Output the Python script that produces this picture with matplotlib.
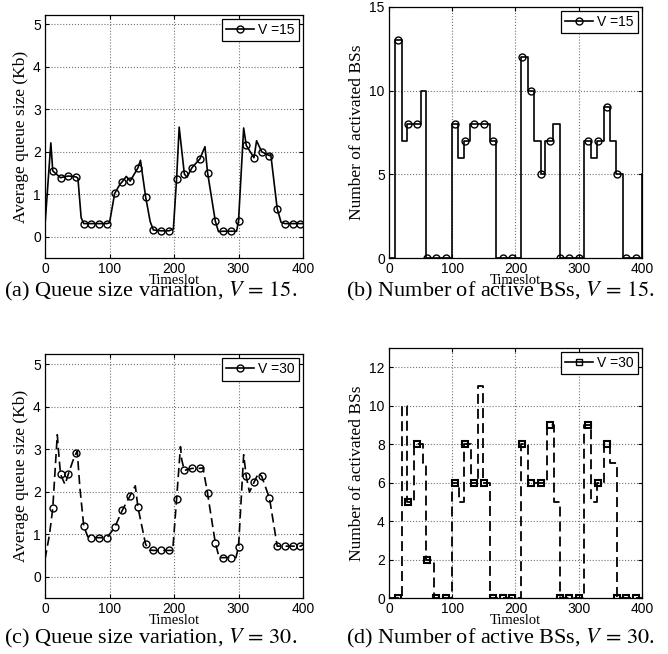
import numpy as np
import matplotlib
matplotlib.use('Agg')
import matplotlib.pyplot as plt
from matplotlib.lines import Line2D

# ---- data ----
# (a) average queue size, V = 15 : markers every 12 slots + extra line vertices
qa_mark_t = list(range(12, 400, 12))
qa_mark = [1.55, 1.39, 1.43, 1.41, 0.31, 0.31, 0.31, 0.31, 1.02, 1.30, 1.31,
           1.62, 0.94, 0.16, 0.14, 0.14, 1.36, 1.48, 1.63, 1.83, 1.51, 0.37,
           0.13, 0.13, 0.37, 2.15, 1.86, 2.00, 1.91, 0.66, 0.31, 0.31, 0.31]
qa_extra_t = [0, 9, 51, 56, 100, 116, 126, 148, 163, 199, 208, 220, 248,
              269, 297, 308, 328, 350, 366, 400]
qa_extra = [0.28, 2.21, 1.38, 0.45, 0.33, 1.23, 1.42, 1.80, 0.36, 0.18, 2.58,
            1.40, 2.12, 0.12, 0.13, 2.56, 2.26, 1.94, 0.34, 0.31]

# (c) average queue size, V = 30
qc_mark_t = list(range(12, 400, 12))
qc_mark = [1.61, 2.41, 2.41, 2.90, 1.20, 0.92, 0.92, 0.92, 1.16, 1.57, 1.91,
           1.64, 0.76, 0.62, 0.62, 0.62, 1.83, 2.50, 2.55, 2.55, 1.96, 0.80,
           0.45, 0.45, 0.70, 2.36, 2.22, 2.36, 1.85, 0.72, 0.72, 0.72, 0.72]
qc_extra_t = [0, 7, 19, 21, 31, 43, 50, 54, 66, 140, 162, 198, 210, 212, 245,
              270, 296, 308, 317, 331, 400]
qc_extra = [0.41, 1.00, 3.34, 2.95, 2.17, 2.72, 2.95, 2.10, 0.95, 2.14, 0.63,
            0.62, 3.06, 2.75, 2.56, 0.45, 0.45, 2.87, 1.99, 2.44, 0.75]

# (b) number of activated BSs, V = 15 (stairs)
nb_t = [0, 10, 20, 28, 50, 59, 100, 109, 118, 128, 160, 170, 209, 220, 230,
        240, 247, 260, 270, 309, 320, 329, 340, 350, 359, 370, 400]
nb = [0, 13, 7, 8, 10, 0, 8, 6, 7, 8, 7, 0, 12, 10, 7, 5, 7, 8, 0, 7, 6, 7, 9,
      7, 5, 0, 5]

# (d) number of activated BSs, V = 30 (stairs)
nd_t = [0, 20, 29, 39, 54, 59, 71, 100, 110, 119, 130, 140, 149, 160, 209, 220,
        250, 261, 270, 309, 320, 329, 340, 350, 360, 400]
nd = [0, 10, 5, 8, 7, 2, 0, 6, 5, 8, 6, 11, 6, 0, 8, 6, 9, 5, 0, 9, 5, 6, 8, 7,
      0, 0]

bs_mark_t = list(range(15, 400, 15))

captions = [r'(a) Queue size variation, $V\,=\,15$.',
            r'(b) Number of active BSs, $V\,=\,15$.',
            r'(c) Queue size variation, $V\,=\,30$.',
            r'(d) Number of active BSs, $V\,=\,30$.']

plt.rcParams['mathtext.fontset'] = 'stix'
SANS = 'Liberation Sans'
SERIF = 'Liberation Serif'


def merge(t1, v1, t2, v2):
    t = np.array(list(t1) + list(t2), dtype=float)
    v = np.array(list(v1) + list(v2), dtype=float)
    o = np.argsort(t, kind='stable')
    return t[o], v[o]


def step_at(ts, vs, x):
    idx = np.searchsorted(ts, x, side='right') - 1
    return np.array(vs)[idx]


def style(ax, ylim, yticks, ylabel):
    ax.set_xlim(0, 400)
    ax.set_ylim(*ylim)
    ax.set_xticks([0, 100, 200, 300, 400])
    ax.set_yticks(yticks)
    ax.grid(True, linestyle=':', color='0.45', linewidth=0.8)
    ax.tick_params(direction='in', top=True, right=True, length=3,
                   labelsize=10, pad=3)
    for lab in ax.get_xticklabels() + ax.get_yticklabels():
        lab.set_family(SANS)
    for s in ax.spines.values():
        s.set_linewidth(0.9)
    ax.set_xlabel('Timeslot', family=SERIF, fontsize=10.5, labelpad=-1.5)
    ax.set_ylabel(ylabel, family=SERIF, fontsize=12.5, labelpad=3)


def legend(ax, ls, marker, label):
    h = Line2D([], [], color='k', ls=ls, lw=1.2, marker=marker, ms=5,
               mfc='none', mew=1.0)
    leg = ax.legend([h], [label], loc='upper right', prop={'family': SANS, 'size': 10},
                    fancybox=False, framealpha=1, edgecolor='k',
                    borderaxespad=0.3, handlelength=2.0, handletextpad=0.3,
                    borderpad=0.3)
    leg.get_frame().set_linewidth(0.9)


fig = plt.figure(figsize=(6.68, 6.54), dpi=100)
ax_a = fig.add_axes([0.0674, 0.6055, 0.3862, 0.3716])
ax_b = fig.add_axes([0.5823, 0.6055, 0.3787, 0.3838])
ax_c = fig.add_axes([0.0674, 0.0856, 0.3862, 0.3731])
ax_d = fig.add_axes([0.5823, 0.0856, 0.3787, 0.3823])

# (a)
t, v = merge(qa_extra_t, qa_extra, qa_mark_t, qa_mark)
ax_a.plot(t, v, color='k', lw=1.2)
ax_a.plot(qa_mark_t, qa_mark, ls='none', marker='o', ms=5, mfc='none',
          mec='k', mew=1.0)
style(ax_a, (-0.5, 5.22), [0, 1, 2, 3, 4, 5], 'Average queue size (Kb)')
legend(ax_a, '-', 'o', 'V =15')

# (b)
ax_b.plot(nb_t, nb, color='k', lw=1.2, drawstyle='steps-post')
ax_b.plot(bs_mark_t, step_at(nb_t, nb, bs_mark_t), ls='none', marker='o',
          ms=5, mfc='none', mec='k', mew=1.0)
style(ax_b, (0, 15), [0, 5, 10, 15], 'Number of activated BSs')
legend(ax_b, '-', 'o', 'V =15')

# (c)
t, v = merge(qc_extra_t, qc_extra, qc_mark_t, qc_mark)
ax_c.plot(t, v, color='k', lw=1.2, dashes=(5.5, 2.8))
ax_c.plot(qc_mark_t, qc_mark, ls='none', marker='o', ms=5, mfc='none',
          mec='k', mew=1.0)
style(ax_c, (-0.5, 5.24), [0, 1, 2, 3, 4, 5], 'Average queue size (Kb)')
legend(ax_c, '-', 'o', 'V =30')

# (d)
ax_d.plot(nd_t, nd, color='k', lw=1.3, dashes=(5.5, 2.8), drawstyle='steps-post')
ax_d.plot(bs_mark_t, step_at(nd_t, nd, bs_mark_t), ls='none', marker='s',
          ms=4.5, mfc='none', mec='k', mew=1.5)
style(ax_d, (0, 13), [0, 2, 4, 6, 8, 10, 12], 'Number of activated BSs')
legend(ax_d, '-', 's', 'V =30')

# captions
for (x, y), cap in zip([(151, 291), (500, 291), (151, 638), (500, 638)], captions):
    fig.text(x / 668, 1 - y / 654, cap, family=SERIF, fontsize=16,
             ha='center', va='center')

fig.savefig('out.png', dpi=100)
